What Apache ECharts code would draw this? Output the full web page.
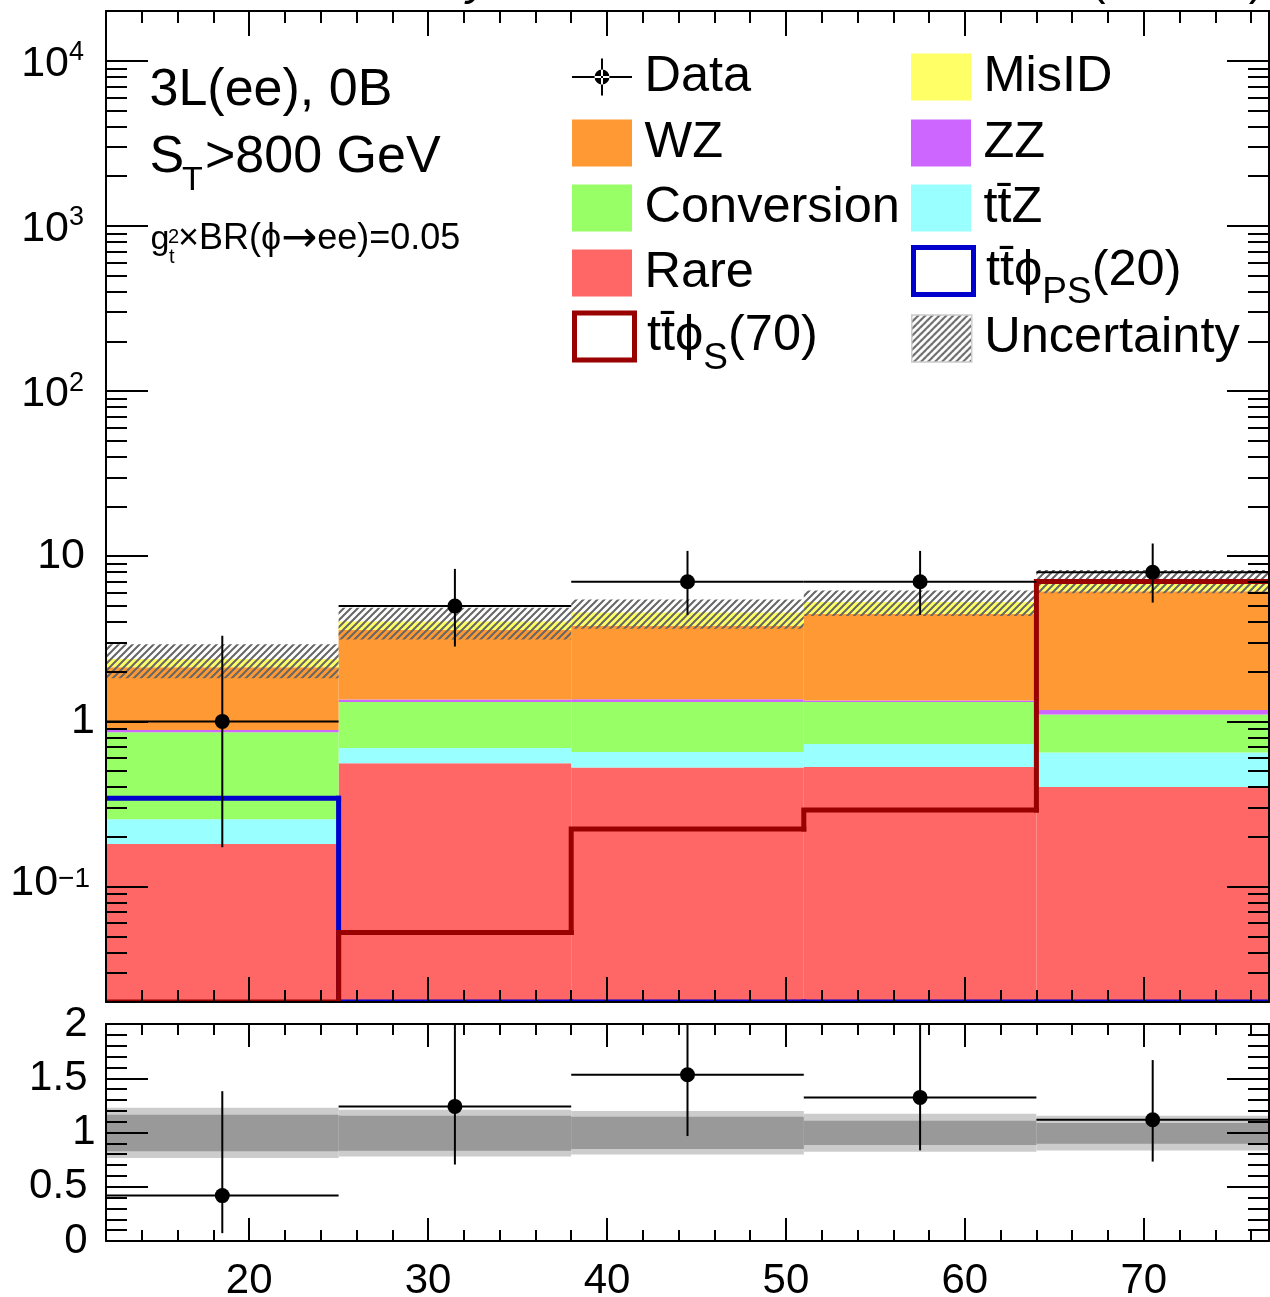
<!DOCTYPE html>
<html><head><meta charset="utf-8">
<script src="https://cdn.jsdelivr.net/npm/echarts@6/dist/echarts.min.js"></script>
<style>html,body{margin:0;padding:0;background:#fff}#c{width:1270px;height:1297px}</style>
</head><body><div id="c"></div>
<script>
// ---------- data ----------
const binEdges = [12, 25, 38, 51, 64, 77];
const xMajorTicks = [20, 30, 40, 50, 60, 70];
const logMajorTicks = [0.1, 1, 10, 100, 1000, 10000];
const logMinorTicks = [0.02,0.03,0.04,0.05,0.06,0.07,0.08,0.09,0.2,0.3,0.4,0.5,0.6,0.7,0.8,0.9,2,3,4,5,6,7,8,9,20,30,40,50,60,70,80,90,200,300,400,500,600,700,800,900,2000,3000,4000,5000,6000,7000,8000,9000,20000];
const ratioTickLabels = [0, 0.5, 1, 1.5, 2];
const ratioMajorTicks = [0.5, 1, 1.5];

const rare       = [0.181, 0.558, 0.525, 0.530, 0.400];
const ttZ        = [0.075, 0.132, 0.128, 0.200, 0.247];
const conversion = [0.604, 0.620, 0.657, 0.580, 0.453];
const zz         = [0.027, 0.045, 0.050, 0.030, 0.070];
const wz         = [1.243, 2.225, 2.420, 3.130, 4.960];
const misID      = [0.260, 0.450, 0.790, 0.820, 1.030];

const observed     = [1, 5, 7, 7, 8];
const observedLow  = [0.173, 2.84, 4.42, 4.42, 5.24];
const observedHigh = [3.30, 8.38, 10.77, 10.77, 11.94];

const signalPS20 = [0.343, 0, 0, 0, 0];
const signalS70  = [0, 0.0527, 0.223, 0.291, 7.03];

const uncTotalLow  = [0.764, 0.778, 0.797, 0.822, 0.834];
const uncTotalHigh = [1.228, 1.210, 1.198, 1.173, 1.154];
const uncStatLow   = [0.828, 0.831, 0.847, 0.884, 0.896];
const uncStatHigh  = [1.163, 1.154, 1.145, 1.108, 1.087];

// ---------- styling ----------
const FF = '"Liberation Sans", Arial, Helvetica, sans-serif';
const PHI = '\u03D5';
const NAME_TTZ = 'tt\u0304Z';
const NAME_PS = 'tt\u0304' + PHI + 'PS(20)';
const NAME_S = 'tt\u0304' + PHI + 'S(70)';

const stackDefs = [
  { name: 'Rare', values: rare, color: '#ff6666' },
  { name: NAME_TTZ, values: ttZ, color: '#99ffff' },
  { name: 'Conversion', values: conversion, color: '#99ff66' },
  { name: 'ZZ', values: zz, color: '#cc66ff' },
  { name: 'WZ', values: wz, color: '#ff9933' },
  { name: 'MisID', values: misID, color: '#ffff66' }
];

const hatchCanvas = (function () {
  const c = document.createElement('canvas'); c.width = 7; c.height = 7;
  const g = c.getContext('2d');
  g.strokeStyle = '#666'; g.lineWidth = 2;
  g.beginPath();
  g.moveTo(0, 7); g.lineTo(7, 0);
  g.moveTo(-1, 1); g.lineTo(1, -1);
  g.moveTo(6, 8); g.lineTo(8, 6);
  g.stroke();
  return c;
})();
const hatchFill = { image: hatchCanvas, repeat: 'repeat' };

// ---------- renderers ----------
function clipRect(r, cs) {
  return echarts.graphic.clipRectByRect(r, { x: cs.x, y: cs.y, width: cs.width, height: cs.height });
}
function makeRectRenderer(fillFn) {
  return function (params, api) {
    const cs = params.coordSys;
    const a = api.coord([api.value(0), api.value(3)]);
    const b = api.coord([api.value(1), api.value(3)]);
    const lo = api.value(2);
    const yb = lo > 0 ? api.coord([api.value(0), lo])[1] : cs.y + cs.height;
    const r = clipRect({ x: a[0], y: a[1], width: b[0] - a[0], height: yb - a[1] }, cs);
    return r && { type: 'rect', shape: r, style: { fill: fillFn(api) } };
  };
}
const colorRect = makeRectRenderer(api => api.visual('color'));
const hatchRect = makeRectRenderer(() => hatchFill);

function stepLine(params, api) {
  const cs = params.coordSys; const bottom = cs.y + cs.height;
  const yOf = v => v > 0 ? api.coord([api.value(0), v])[1] : bottom;
  const x0 = api.coord([api.value(0), 1])[0];
  const x1 = api.coord([api.value(1), 1])[0];
  const yc = yOf(api.value(2)), yp = yOf(api.value(3));
  return { type: 'polyline', shape: { points: [[x0, yp], [x0, yc], [x1, yc]] },
    style: { stroke: api.visual('color'), lineWidth: 5, fill: null, lineCap: 'square', lineJoin: 'miter' } };
}

function dataMarker(params, api) {
  const lo = api.value(0), hi = api.value(1), v = api.value(2);
  const mid = (lo + hi) / 2;
  const c = api.coord([mid, v]);
  const pl = api.coord([lo, v]), pr = api.coord([hi, v]);
  const pd = api.coord([mid, api.value(3)]), pu = api.coord([mid, api.value(4)]);
  return { type: 'group', children: [
    { type: 'line', shape: { x1: pl[0], y1: c[1], x2: pr[0], y2: c[1] }, style: { stroke: '#000', lineWidth: 2 } },
    { type: 'line', shape: { x1: c[0], y1: pu[1], x2: c[0], y2: pd[1] }, style: { stroke: '#000', lineWidth: 2 } },
    { type: 'circle', shape: { cx: c[0], cy: c[1], r: 7.5 }, style: { fill: '#000' } }
  ] };
}

// ---------- series ----------
const series = [];
const cum = observed.map(() => 0);
stackDefs.forEach(def => {
  const rows = def.values.map((v, i) => {
    const lo = cum[i]; cum[i] = lo + v;
    return [binEdges[i], binEdges[i + 1], lo, cum[i]];
  });
  series.push({ type: 'custom', name: def.name, xAxisIndex: 0, yAxisIndex: 0, clip: true, z: 2,
    itemStyle: { color: def.color }, encode: { x: 0, y: 3 }, data: rows, renderItem: colorRect });
});
const totals = cum.slice();

series.push({ type: 'custom', name: 'Uncertainty', xAxisIndex: 0, yAxisIndex: 0, clip: true, z: 3,
  itemStyle: { color: '#888' }, encode: { x: 0, y: 3 },
  data: totals.map((t, i) => [binEdges[i], binEdges[i + 1], t * uncTotalLow[i], t * uncTotalHigh[i]]),
  renderItem: hatchRect });

function signalRows(vals) {
  return vals.map((v, i) => [binEdges[i], binEdges[i + 1], v, i === 0 ? v : vals[i - 1]]);
}
series.push({ type: 'custom', name: NAME_PS, xAxisIndex: 0, yAxisIndex: 0, clip: true, z: 4,
  itemStyle: { color: '#0000cc' }, encode: { x: 0, y: 1 }, data: signalRows(signalPS20), renderItem: stepLine });
series.push({ type: 'custom', name: NAME_S, xAxisIndex: 0, yAxisIndex: 0, clip: true, z: 4,
  itemStyle: { color: '#990000' }, encode: { x: 0, y: 1 }, data: signalRows(signalS70), renderItem: stepLine });

series.push({ type: 'custom', name: 'Data', xAxisIndex: 0, yAxisIndex: 0, clip: true, z: 5,
  itemStyle: { color: '#000' }, encode: { x: 0, y: 2 },
  data: observed.map((v, i) => [binEdges[i], binEdges[i + 1], v, observedLow[i], observedHigh[i]]),
  renderItem: dataMarker });

// ratio panel
series.push({ type: 'custom', name: 'ratioTotalUnc', xAxisIndex: 4, yAxisIndex: 4, clip: true, z: 2,
  itemStyle: { color: '#cccccc' }, encode: { x: 0, y: 3 },
  data: totals.map((t, i) => [binEdges[i], binEdges[i + 1], uncTotalLow[i], uncTotalHigh[i]]),
  renderItem: colorRect });
series.push({ type: 'custom', name: 'ratioStatUnc', xAxisIndex: 4, yAxisIndex: 4, clip: true, z: 3,
  itemStyle: { color: '#999999' }, encode: { x: 0, y: 3 },
  data: totals.map((t, i) => [binEdges[i], binEdges[i + 1], uncStatLow[i], uncStatHigh[i]]),
  renderItem: colorRect });
series.push({ type: 'custom', name: 'ratioData', xAxisIndex: 4, yAxisIndex: 4, clip: true, z: 5,
  itemStyle: { color: '#000' }, encode: { x: 0, y: 2 },
  data: observed.map((v, i) => [binEdges[i], binEdges[i + 1], v / totals[i], observedLow[i] / totals[i], observedHigh[i] / totals[i]]),
  renderItem: dataMarker });

// ---------- axes ----------
const lineBlack = { color: '#000', width: 2 };
function xAx(grid, pos, major, labels) {
  const a = { gridIndex: grid, type: 'value', min: 12, max: 77, position: pos, z: 10,
    axisLine: { show: major, onZero: false, lineStyle: lineBlack },
    axisTick: { show: true, inside: true, length: major ? (grid === 0 ? 25 : 23) : (grid === 0 ? 12 : 11), lineStyle: lineBlack },
    axisLabel: { show: false }, splitLine: { show: false } };
  if (major) { a.axisTick.customValues = xMajorTicks; } else { a.interval = 2; }
  if (labels) {
    a.axisLabel = { show: true, customValues: xMajorTicks, margin: 19, fontSize: 42, fontFamily: FF, color: '#000' };
  }
  return a;
}
function logLabel(v) {
  const e = Math.round(Math.log10(v));
  if (e === 0) return '{one|1}';
  if (e === 1) return '{ten|10}';
  if (e < 0) return '{bn|10}{supn|\u2212' + (-e) + '}';
  return '{bp|10}{supp|' + e + '}';
}
function yLog(pos, major, labels) {
  const a = { gridIndex: 0, type: 'log', logBase: 10, min: 0.02, max: 20000, position: pos, z: 10,
    axisLine: { show: major, onZero: false, lineStyle: lineBlack },
    axisTick: { show: true, inside: true, length: major ? 42 : 21, customValues: major ? logMajorTicks : logMinorTicks, lineStyle: lineBlack },
    axisLabel: { show: false }, splitLine: { show: false }, minorTick: { show: false } };
  if (labels) {
    a.axisLabel = { show: true, customValues: logMajorTicks, margin: 11, formatter: logLabel, color: '#000', fontFamily: FF,
      rich: {
        one: { fontSize: 43, fontFamily: FF, lineHeight: 43 },
        ten: { fontSize: 43, fontFamily: FF, lineHeight: 43, padding: [0, 10, 0, 0] },
        bp: { fontSize: 43, fontFamily: FF, lineHeight: 43, padding: [7, 0, 0, 0] },
        supp: { fontSize: 27, fontFamily: FF, lineHeight: 36, verticalAlign: 'top', padding: [0, 11, 0, 0] },
        bn: { fontSize: 43, fontFamily: FF, lineHeight: 43, padding: [0, 0, 6, 0] },
        supn: { fontSize: 28, fontFamily: FF, lineHeight: 18, verticalAlign: 'top', padding: [0, 5, 0, 0] }
      } };
  }
  return a;
}
function yRatio(pos, major, labels) {
  const a = { gridIndex: 1, type: 'value', min: 0, max: 2, position: pos, z: 10,
    axisLine: { show: major, onZero: false, lineStyle: lineBlack },
    axisTick: { show: true, inside: true, length: major ? 42 : 21, lineStyle: lineBlack },
    axisLabel: { show: false }, splitLine: { show: false } };
  if (major) { a.axisTick.customValues = ratioMajorTicks; } else { a.interval = 0.1; }
  if (labels) {
    a.axisLabel = { show: true, customValues: ratioTickLabels, margin: 10.5, color: '#000', fontFamily: FF,
      formatter: v => v === 1 ? '{one|1}' : '{d|' + v + '}',
      rich: { one: { fontSize: 42, fontFamily: FF }, d: { fontSize: 42, fontFamily: FF, padding: [0, 8, 0, 0] } } };
  }
  return a;
}

// ---------- legend (one component per row) ----------
const dataIcon = 'path://M0 0L0 0M60 47L60 47M0 22.5H60V24.5H0Z M29 5H31V42H29Z M22.5 23.5A7.5 7.5 0 1 0 37.5 23.5A7.5 7.5 0 1 0 22.5 23.5Z';
const LFS = 50.5, SFS = 37, SUBPAD = 44, TXTGAP = 7.5;
function legendFmt(name) {
  if (name === NAME_PS) return '{n|tt\u0304' + PHI + '}{sub|PS}{n|(20)}';
  if (name === NAME_S) return '{n|tt\u0304' + PHI + '}{sub|S}{n|(70)}';
  return name;
}
const legendPlain = { fontSize: LFS, fontFamily: FF, color: '#000', lineHeight: 47, padding: [0, 0, 0, TXTGAP] };
const legendRich = { fontSize: LFS, fontFamily: FF, color: '#000', padding: [0, 0, 0, TXTGAP],
  rich: { n: { fontSize: LFS, fontFamily: FF }, sub: { fontSize: SFS, fontFamily: FF, padding: [SUBPAD, 0, 0, 0] } } };
const RICH_HALF = 26;
const rowCenters = [75, 141, 206, 271, 336.5];
function legendRow(left, row, item, rich) {
  return { orient: 'vertical', left: left, top: rowCenters[row] - (rich ? RICH_HALF : 23.5),
    itemWidth: 60, itemHeight: 47, padding: 0, selectedMode: false,
    formatter: legendFmt, textStyle: rich ? legendRich : legendPlain, data: [item] };
}
const legends = [
  legendRow(572, 0, { name: 'Data', icon: dataIcon, itemStyle: { color: '#000', borderWidth: 0 } }),
  legendRow(572, 1, { name: 'WZ', icon: 'rect', itemStyle: { color: '#ff9933', borderWidth: 0 } }),
  legendRow(572, 2, { name: 'Conversion', icon: 'rect', itemStyle: { color: '#99ff66', borderWidth: 0 } }),
  legendRow(572, 3, { name: 'Rare', icon: 'rect', itemStyle: { color: '#ff6666', borderWidth: 0 } }),
  legendRow(572, 4, { name: NAME_S, icon: 'rect', itemStyle: { color: '#ffffff', borderColor: '#990000', borderWidth: 5 } }, true),
  legendRow(911, 0, { name: 'MisID', icon: 'rect', itemStyle: { color: '#ffff66', borderWidth: 0 } }),
  legendRow(911, 1, { name: 'ZZ', icon: 'rect', itemStyle: { color: '#cc66ff', borderWidth: 0 } }),
  legendRow(911, 2, { name: NAME_TTZ, icon: 'rect', itemStyle: { color: '#99ffff', borderWidth: 0 } }),
  legendRow(911, 3, { name: NAME_PS, icon: 'rect', itemStyle: { color: '#ffffff', borderColor: '#0000cc', borderWidth: 5 } }, true),
  legendRow(911, 4, { name: 'Uncertainty', icon: 'rect', itemStyle: { color: hatchFill, borderColor: '#cccccc', borderWidth: 1.5 } })
];

// ---------- text annotations ----------
function txt(x, y, s, size, extra) {
  return { type: 'text', x: x, y: y, z: 20, style: Object.assign({ text: s, fontSize: size, fontFamily: FF, fill: '#000', verticalAlign: 'middle', align: 'left' }, extra || {}) };
}
const graphics = [
  txt(149.5, 91, '3L(ee), 0B', 52),
  txt(149.5, 157.5, 'S', 52),
  txt(182, 180.5, 'T', 34),
  txt(205, 157.5, '>800 GeV', 52),
  txt(150.5, 239.5, 'g', 34),
  txt(168, 237, '2', 20),
  txt(169, 257, 't', 20),
  txt(178, 239.5, '{a|\u00D7BR(' + PHI + '}{ar|\u2192}{a|ee)=0.05}', 36, { rich: {
    a: { fontSize: 36, fontFamily: FF },
    ar: { fontSize: 43, fontFamily: '"DejaVu Sans", sans-serif' } } }),
  txt(490, -19, '{b|CMS} {i|Preliminary}', 46, { align: 'right', rich: { b: { fontWeight: 'bold', fontSize: 46, fontFamily: FF }, i: { fontStyle: 'italic', fontSize: 46, fontFamily: FF } } }),
  txt(1264, -19, '35.9 fb\u207B\u00B9 (13 TeV)', 46, { align: 'right' })
];

const option = {
  animation: false,
  backgroundColor: '#fff',
  textStyle: { fontFamily: FF },
  grid: [
    { left: 106, right: 1, top: 11, height: 991, outerBoundsMode: 'none', containLabel: false },
    { left: 106, right: 1, top: 1024, height: 217, outerBoundsMode: 'none', containLabel: false }
  ],
  xAxis: [
    xAx(0, 'bottom', true, false), xAx(0, 'bottom', false, false),
    xAx(0, 'top', true, false), xAx(0, 'top', false, false),
    xAx(1, 'bottom', true, true), xAx(1, 'bottom', false, false),
    xAx(1, 'top', true, false), xAx(1, 'top', false, false)
  ],
  yAxis: [
    yLog('left', true, true), yLog('left', false, false),
    yLog('right', true, false), yLog('right', false, false),
    yRatio('left', true, true), yRatio('left', false, false),
    yRatio('right', true, false), yRatio('right', false, false)
  ],
  legend: legends,
  graphic: graphics,
  series: series
};

const chart = echarts.init(document.getElementById('c'), null, { renderer: 'canvas' });
chart.setOption(option);
</script>
</body></html>
